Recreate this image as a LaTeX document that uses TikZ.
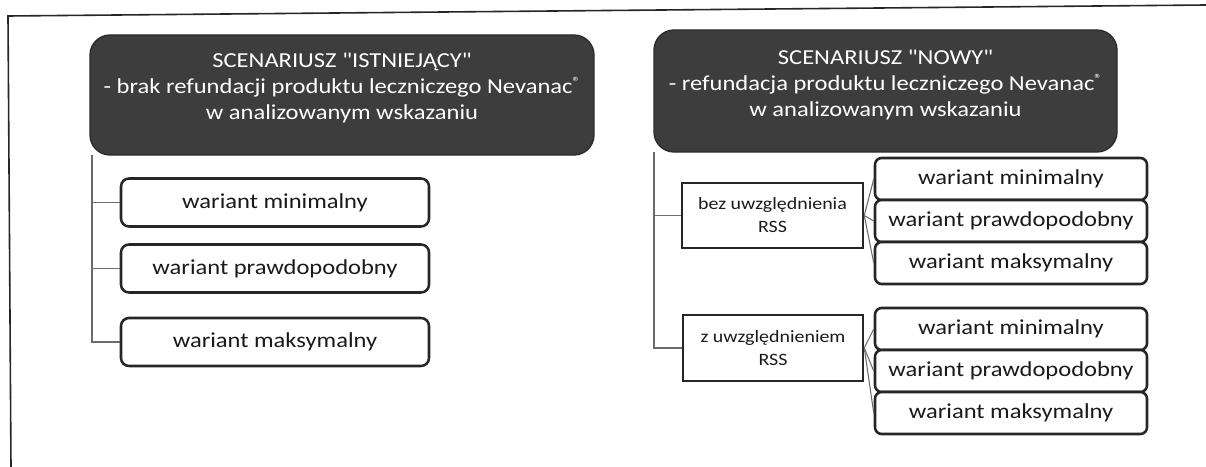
\documentclass[tikz,border=0pt]{standalone}
\usepackage{fontspec}
\setmainfont{Carlito}[FakeStretch=1.15, Ligatures=TeXOff]
\usetikzlibrary{calc}
\definecolor{hdrfill}{HTML}{3D3D3D}
\definecolor{hdrborder}{HTML}{2B2B2B}
\definecolor{boxline}{HTML}{262626}
\definecolor{connline}{HTML}{6B6B6B}
\definecolor{textcol}{HTML}{1A1A1A}
\newcommand{\regmark}{\raisebox{0.32em}{\fontsize{10}{10}\selectfont\textregistered}}
\begin{document}
\begin{tikzpicture}[x=0.75pt,y=-0.75pt,
  hdr/.style={draw=hdrborder, fill=hdrfill, rounded corners=15pt, line width=1pt, inner sep=0pt},
  hdrtext/.style={text=white, align=center, font=\fontsize{16}{19.5}\selectfont, inner sep=0pt},
  varbox/.style={draw=boxline, fill=white, rounded corners=5pt, line width=1.9pt, align=center, font=\fontsize{16}{19}\selectfont, text=textcol, inner sep=0pt},
  rssbox/.style={draw=boxline, fill=white, line width=1.9pt, align=center, font=\fontsize{13}{17.25}\selectfont, text=textcol, inner sep=0pt},
  conn/.style={draw=connline, line width=0.8pt},
  frameline/.style={draw=boxline, line width=1.2pt}]
\useasboundingbox (0,0) rectangle (1206,467);
% frame
\draw[frameline] (1206,5) -- (8,16) -- (11,467);
% connectors (drawn first, under the boxes)
\coordinate (lv) at (92,155);
\coordinate (rv) at (654,152);
% headers
\node[hdr, minimum width=378pt, minimum height=90pt] (hl) at (342,95) {};
\node[hdrtext] (hlt) at (342,88) {SCENARIUSZ "ISTNIEJĄCY"\\- brak refundacji produktu leczniczego Nevanac\regmark\\w analizowanym wskazaniu};
\node[hdr, minimum width=347.25pt, minimum height=91.5pt] (hr) at (885.5,91) {};
\node[hdrtext] (hrt) at (885.5,85) {SCENARIUSZ "NOWY"\\- refundacja produktu leczniczego Nevanac\regmark\\w analizowanym wskazaniu};
% left variants
\node[varbox, rounded corners=6pt, minimum width=231pt, minimum height=36pt] (lmin) at (275,202.5) {wariant minimalny};
\node[varbox, rounded corners=6pt, minimum width=231pt, minimum height=36pt] (lpra) at (275,268.5) {wariant prawdopodobny};
\node[varbox, rounded corners=6pt, minimum width=231pt, minimum height=36pt] (lmax) at (275,342) {wariant maksymalny};
% RSS boxes
\node[rssbox, minimum width=135.75pt, minimum height=48.75pt] (rss1) at (772.5,215.5) {bez uwzględnienia\\RSS};
\node[rssbox, minimum width=135pt, minimum height=49.5pt] (rss2) at (773,348) {z uwzględnieniem\\RSS};
% right variants group 1
\node[varbox, minimum width=204pt, minimum height=31.5pt] (a1) at (1011,179) {wariant minimalny};
\node[varbox, minimum width=204pt, minimum height=31.5pt] (a2) at (1011,221) {wariant prawdopodobny};
\node[varbox, minimum width=204pt, minimum height=31.5pt] (a3) at (1011,263) {wariant maksymalny};
% right variants group 2
\node[varbox, minimum width=204pt, minimum height=31.5pt] (b1) at (1011,329) {wariant minimalny};
\node[varbox, minimum width=204pt, minimum height=31.5pt] (b2) at (1011,371) {wariant prawdopodobny};
\node[varbox, minimum width=204pt, minimum height=31.5pt] (b3) at (1011,413) {wariant maksymalny};
% connectors
\draw[conn] (lv) |- (lmin.west);
\draw[conn] (lv) |- (lpra.west);
\draw[conn] (lv) |- (lmax.west);
\draw[conn] (rv) |- (rss1.west);
\draw[conn] (rv) |- (rss2.west);
\draw[conn] (rss1.east) -- (a1.west);
\draw[conn] (rss1.east) -- (a2.west);
\draw[conn] (rss1.east) -- (a3.west);
\draw[conn] (rss2.east) -- (b1.west);
\draw[conn] (rss2.east) -- (b2.west);
\draw[conn] (rss2.east) -- (b3.west);
\end{tikzpicture}
\end{document}
